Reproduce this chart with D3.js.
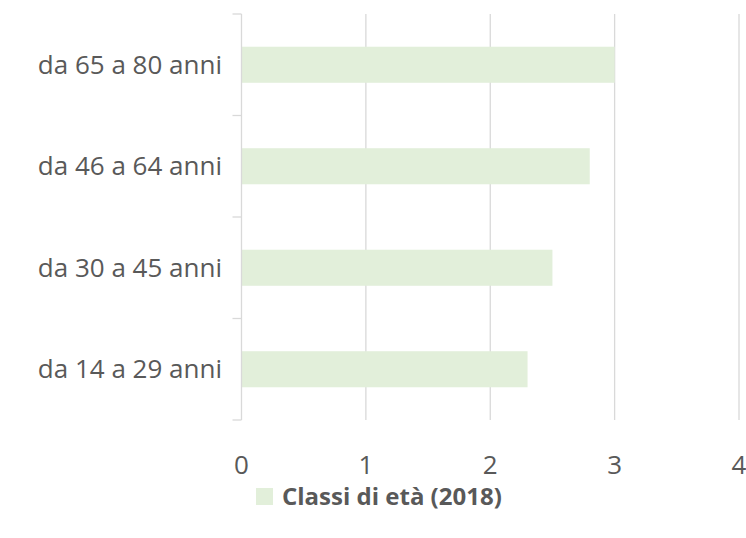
<!DOCTYPE html>
<html>
<head>
<meta charset="utf-8">
<script src="https://cdnjs.cloudflare.com/ajax/libs/d3/7.8.5/d3.min.js"></script>
<style>
  body { margin: 0; background: #fff; }
  text { font-family: "Open Sans", "Liberation Sans", sans-serif; fill: #595959; }
</style>
</head>
<body>
<div class="chart"></div>
<script>
var svgWidth = 746;
var svgHeight = 538;

// data, top category first
var categories = ["da 65 a 80 anni", "da 46 a 64 anni", "da 30 a 45 anni", "da 14 a 29 anni"];
var values = [3.0, 2.8, 2.5, 2.3];
var xTicks = [0, 1, 2, 3, 4];
var seriesName = "Classi di età (2018)";

var plot = { left: 241.5, right: 739, top: 14, bottom: 420 };

var svg = d3.select(".chart")
  .append("svg")
  .attr("width", svgWidth)
  .attr("height", svgHeight);

var xScale = d3.scaleLinear().domain([0, 4]).range([plot.left, plot.right]);

// bars centred in their category, Excel-like gap
var gap = 0.645;
var yScale = d3.scaleBand()
  .domain(categories)
  .range([plot.top, plot.bottom])
  .paddingInner(gap)
  .paddingOuter(gap / 2);

var step = yScale.step();

// vertical gridlines
svg.append("g")
  .selectAll("line")
  .data(xTicks.slice(1))
  .enter()
  .append("line")
  .attr("x1", function(d) { return xScale(d); })
  .attr("x2", function(d) { return xScale(d); })
  .attr("y1", plot.top)
  .attr("y2", plot.bottom)
  .attr("stroke", "#d9d9d9")
  .attr("stroke-width", 1.3);

// bars
svg.append("g")
  .selectAll("rect")
  .data(values)
  .enter()
  .append("rect")
  .attr("x", xScale(0))
  .attr("y", function(d, i) { return yScale(categories[i]); })
  .attr("width", function(d) { return xScale(d) - xScale(0); })
  .attr("height", yScale.bandwidth())
  .attr("fill", "#e2efda");

// category axis line + tick marks at band edges
svg.append("line")
  .attr("x1", plot.left).attr("x2", plot.left)
  .attr("y1", plot.top).attr("y2", plot.bottom)
  .attr("stroke", "#d9d9d9")
  .attr("stroke-width", 1.3);

var edges = d3.range(categories.length + 1).map(function(i) { return plot.top + i * step; });
svg.append("g")
  .selectAll("line")
  .data(edges)
  .enter()
  .append("line")
  .attr("x1", plot.left - 9)
  .attr("x2", plot.left)
  .attr("y1", function(d) { return d; })
  .attr("y2", function(d) { return d; })
  .attr("stroke", "#d9d9d9")
  .attr("stroke-width", 1.3);

// category labels
svg.append("g")
  .selectAll("text")
  .data(categories)
  .enter()
  .append("text")
  .attr("x", 222)
  .attr("y", function(d) { return yScale(d) + yScale.bandwidth() / 2; })
  .attr("dy", "0.35em")
  .attr("text-anchor", "end")
  .style("font-size", "26px")
  .text(function(d) { return d; });

// value axis labels
svg.append("g")
  .selectAll("text")
  .data(xTicks)
  .enter()
  .append("text")
  .attr("x", function(d) { return xScale(d); })
  .attr("y", 465)
  .attr("dy", "0.35em")
  .attr("text-anchor", "middle")
  .style("font-size", "26px")
  .text(function(d) { return d; });

// legend
var legend = svg.append("g").attr("transform", "translate(256,488)");
legend.append("rect")
  .attr("width", 17)
  .attr("height", 17)
  .attr("fill", "#e2efda");
legend.append("text")
  .attr("x", 26)
  .attr("y", 9)
  .attr("dy", "0.35em")
  .style("font-size", "24px")
  .style("font-weight", "bold")
  .text(seriesName);
</script>
</body>
</html>
